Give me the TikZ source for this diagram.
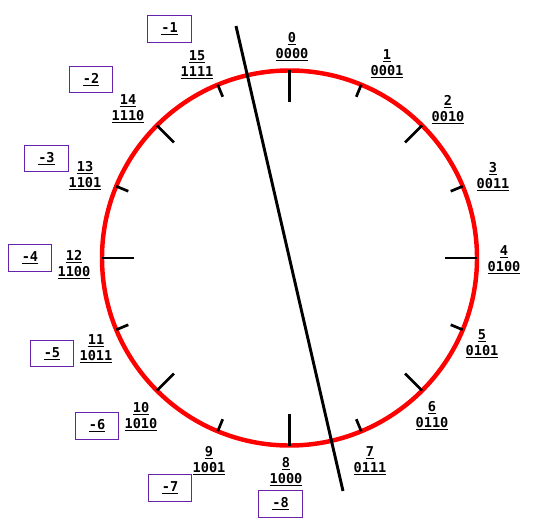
\documentclass[tikz,border=0pt]{standalone}
\usepackage{fontspec}
\setmonofont{DejaVu Sans Mono}
\usetikzlibrary{positioning}
\definecolor{boxpurple}{RGB}{102,34,170}

\tikzset{
  dialfont/.style={font=\ttfamily\bfseries\fontsize{11.6}{13.6}\selectfont},
  negbox/.style={draw=boxpurple, line width=0.85pt, minimum width=37.4pt, minimum height=23pt},
}

\begin{document}
\begin{tikzpicture}[x=0.03cm, y=-0.03cm]
\useasboundingbox (0,0) rectangle (560,531);
\begin{scope}[every node/.style={dialfont, inner sep=0pt, align=center}]
% dial and ticks
\coordinate (centre) at (289.5,258);
\draw [red, line width=3.8pt] (centre) circle [radius=5.625cm];
\foreach \k in {0,...,15} {
  \pgfmathsetmacro{\a}{90-22.5*\k}
  \pgfmathsetmacro{\len}{mod(\k,4)==0 ? 32 : (mod(\k,2)==0 ? 24 : 13)}
  \pgfmathsetmacro{\rin}{5.625-\len*0.03}
  \draw [black, line width=2.3pt] ([shift={(\a:5.625cm)}]centre) -- ([shift={(\a:\rin cm)}]centre);
}
% unsigned values with their bits
\foreach \k/\bits/\x/\y in {0/0000/292/47, 1/0001/387/64, 2/0010/448/110, 3/0011/493/177,
    4/0100/504/260, 5/0101/482/344, 6/0110/432/416, 7/0111/370/461,
    8/1000/286/472, 9/1001/209/461, 10/1010/141/417, 11/1011/96/349,
    12/1100/74/265, 13/1101/85/176, 14/1110/128/109, 15/1111/197/65} {
  \node (v\k) at (\x,\y) {\underline{\k}\\\underline{\bits}};
}
% signed values
\foreach \n/\x/\y in {1/169.5/29, 2/91/79.5, 3/46.5/158.5, 4/30/258,
    5/52/353.5, 6/97/426, 7/170/488, 8/280.5/504} {
  \node [negbox] (n\n) at (\x,\y) {\underline{-\n}};
}
% cut between 15 and 0 / 7 and 8
\coordinate (cuttop) at (236,26);
\coordinate (cutbottom) at (343,491);
\draw [black, line width=2.5pt] (cuttop) -- (cutbottom);
\end{scope}
\end{tikzpicture}
\end{document}
